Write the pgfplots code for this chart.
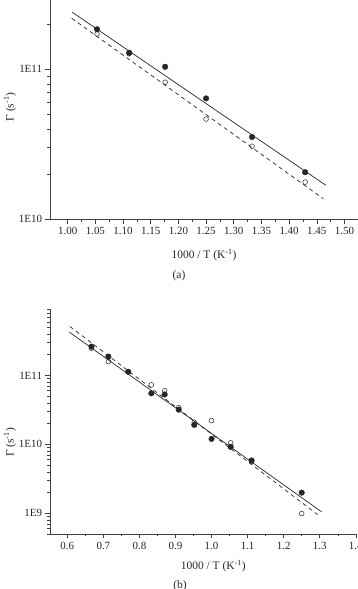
\documentclass[border=0pt]{standalone}
\usepackage{fontspec}
\setmainfont{Liberation Serif}
\usepackage{pgfplots}
\pgfplotsset{compat=1.18}
\pgfplotsset{
 openpt/.style={only marks, mark=o, mark size=2.4bp, mark options={draw=black!85, line width=0.5bp}},
 fillpt/.style={only marks, mark=*, mark size=2.8bp, mark options={draw=black!85, fill=black!85}},
}
\begin{document}
\begin{tikzpicture}
\useasboundingbox (0bp,0bp) rectangle (358bp,589bp);
% ---------- panel (a)
\begin{semilogyaxis}[
  scale only axis, anchor=south west,
  axis x line*=bottom, axis y line*=left,
  axis line style={black!75, line width=0.6bp},
  tick style={black!75, line width=0.5bp},
  tick align=outside, major tick length=4.5bp, minor tick length=2.5bp,
  /pgf/number format/assume math mode=true,
  tick label style={font=\fontsize{11}{13}\selectfont, text=black!85},
  label style={font=\fontsize{11.5}{13}\selectfont, text=black!85},
  minor x tick num=1,
  at={(50bp,369.7bp)}, width=308bp, height=219.3bp,
  xmin=0.968, xmax=1.5245, ymin=1e10, ymax=2.9e11,
  xtick={1.00,1.05,1.10,1.15,1.20,1.25,1.30,1.35,1.40,1.45,1.50},
  xticklabel style={/pgf/number format/fixed, /pgf/number format/fixed zerofill, /pgf/number format/precision=2},
  ytick={1e10,1e11}, yticklabels={1E10,1E11},
  minor ytick={2e10,3e10,4e10,5e10,6e10,7e10,8e10,9e10,2e11},
  xlabel={1000 / T (K\textsuperscript{-1})},
  xlabel style={at={(axis description cs:0.5,-0.163)}, anchor=center},
  ylabel={Γ (s\textsuperscript{-1})},
  ylabel style={at={(axis description cs:-0.13,0.512)}, anchor=center},
]
\addplot[black!85, line width=0.7bp] coordinates {(1.0084,2.4e11) (1.4664,1.685e10)};
\addplot[black!85, line width=0.7bp, dash pattern=on 4bp off 3.5bp] coordinates {(1.0072,2.19e11) (1.462,1.37e10)};
\addplot[openpt] coordinates {(1.053,1.72e11) (1.111,1.27e11) (1.176,8.2e10) (1.25,4.66e10) (1.333,3.07e10) (1.429,1.77e10)};
\addplot[fillpt] coordinates {(1.053,1.85e11) (1.111,1.29e11) (1.176,1.04e11) (1.25,6.4e10) (1.333,3.54e10) (1.429,2.06e10)};
\end{semilogyaxis}
\node[font=\fontsize{11.5}{13}\selectfont, text=black!85] at (179bp,313.3bp) {(a)};
% ---------- panel (b)
\begin{semilogyaxis}[
  scale only axis, anchor=south west,
  axis x line*=bottom, axis y line*=left,
  axis line style={black!75, line width=0.6bp},
  tick style={black!75, line width=0.5bp},
  tick align=outside, major tick length=4.5bp, minor tick length=2.5bp,
  /pgf/number format/assume math mode=true,
  tick label style={font=\fontsize{11}{13}\selectfont, text=black!85},
  label style={font=\fontsize{11.5}{13}\selectfont, text=black!85},
  minor x tick num=1,
  at={(50bp,55bp)}, width=305.8bp, height=224.5bp,
  xmin=0.552, xmax=1.4, ymin=5e8, ymax=9.06e11,
  xtick={0.6,0.7,0.8,0.9,1.0,1.1,1.2,1.3,1.4},
  xticklabel style={/pgf/number format/fixed, /pgf/number format/fixed zerofill, /pgf/number format/precision=1},
  ytick={1e9,1e10,1e11}, yticklabels={1E9,1E10,1E11},
  minor ytick={5e8,6e8,7e8,8e8,9e8,2e9,3e9,4e9,5e9,6e9,7e9,8e9,9e9,2e10,3e10,4e10,5e10,6e10,7e10,8e10,9e10,2e11,3e11,4e11,5e11,6e11,7e11,8e11,9e11},
  xlabel={1000 / T (K\textsuperscript{-1})},
  xlabel style={at={(axis description cs:0.534,-0.1425)}, anchor=center},
  ylabel={Γ (s\textsuperscript{-1})},
  ylabel style={at={(axis description cs:-0.131,0.408)}, anchor=center},
]
\addplot[black!85, line width=0.7bp] coordinates {(0.6056,4.25e11) (1.3055,1.045e9)};
\addplot[black!85, line width=0.7bp, dash pattern=on 4bp off 3.5bp] coordinates {(0.6075,5.12e11) (1.294,9.57e8)};
\addplot[openpt] coordinates {(0.667,2.49e11) (0.714,1.59e11) (0.769,1.12e11) (0.833,7.3e10) (0.870,6.0e10) (0.909,3.41e10) (0.952,2.09e10) (1.0,2.21e10) (1.053,1.05e10) (1.111,5.6e9) (1.25,9.9e8)};
\addplot[fillpt] coordinates {(0.667,2.62e11) (0.714,1.88e11) (0.769,1.13e11) (0.833,5.5e10) (0.870,5.3e10) (0.909,3.19e10) (0.952,1.92e10) (1.0,1.2e10) (1.053,9.2e9) (1.111,5.83e9) (1.25,1.99e9)};
\end{semilogyaxis}
\node[font=\fontsize{11.5}{13}\selectfont, text=black!85] at (180bp,3bp) {(b)};
\end{tikzpicture}
\end{document}
